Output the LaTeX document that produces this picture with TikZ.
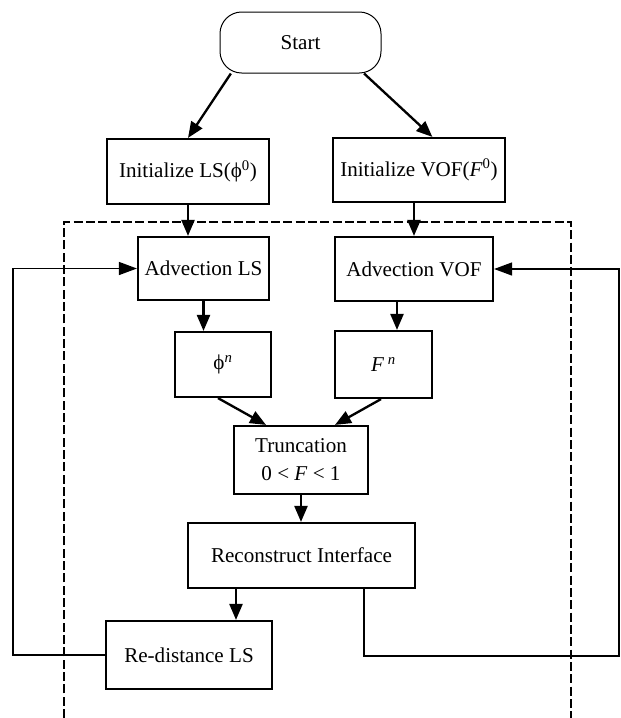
\documentclass[tikz,border=0pt]{standalone}
\usepackage{fontspec}
\setmainfont{Liberation Serif}
\usepackage{tikz}
\usetikzlibrary{arrows.meta, calc}

\begin{document}
\begin{tikzpicture}[
  x=0.3mm, y=-0.3mm,
  box/.style={draw, line width=0.65mm, inner sep=2pt, font=\fontsize{18}{24}\selectfont, align=center},
  arrow/.style={-{Triangle[length=4.8mm, width=3.9mm]}, line width=0.7mm},
  loopline/.style={-{Triangle[length=5.4mm, width=3.9mm]}, line width=0.4mm},
  frame/.style={line width=0.6mm, dash pattern=on 2.7mm off 1mm}
]
\useasboundingbox (0,0) rectangle (621,718);
% dashed frame, open at the bottom
\draw[frame] (64,718) -- (64,222) -- (571,222) -- (571,718);

\node[box, line width=0.3mm, rounded corners=6.5mm, minimum width=48.3mm, minimum height=18.3mm] (start) at (300.5,42.5) {Start};
\node[box, minimum width=48.6mm, minimum height=19.5mm] (initls) at (188,171.5) {Initialize LS(ϕ\textsuperscript{0})};
\node[box, minimum width=51.6mm, minimum height=19.2mm] (initvof) at (419,170) {Initialize VOF(\textit{F}\textsuperscript{0})};
\node[box, minimum width=39.3mm, minimum height=18.9mm] (advls) at (203.5,268.5) {Advection LS};
\node[box, minimum width=47.4mm, minimum height=19.2mm] (advvof) at (414,269) {Advection VOF};
\node[box, minimum width=28.8mm, minimum height=19.5mm] (phin) at (223,364.5) {ϕ\textsuperscript{\textit{n}}};
\node[box, minimum width=29.1mm, minimum height=20.1mm] (fn) at (383.5,364.5) {\textit{F}\,\textsuperscript{\textit{n}}};
\node[box, minimum width=40.2mm, minimum height=20.4mm] (trunc) at (301,460) {Truncation\\0 < \textit{F} < 1};
\node[box, minimum width=68.1mm, minimum height=19.5mm] (recon) at (301.5,555.5) {Reconstruct Interface};
\node[box, minimum width=49.8mm, minimum height=20.4mm] (redist) at (189,655) {Re-distance LS};

% helper points
\coordinate (vofout) at ($(advvof.south)+(-17,0)$);
\coordinate (lsout) at ($(recon.south)+(-65.5,0)$);
\coordinate (recout) at ($(recon.south)+(62.5,0)$);
\coordinate (lft) at (13,655);
\coordinate (rgt) at (619,656);

\draw[arrow] (start.204) -- (initls.north);
\draw[arrow] (start.334) -- (initvof.68);
\draw[arrow] (initls.south) -- (initls.south |- advls.north);
\draw[arrow] (advvof.north |- initvof.south) -- (advvof.north);
\draw[arrow] (advls.south) -- (advls.south |- phin.north);
\draw[arrow] (vofout) -- (vofout |- fn.north);
\draw[arrow] ($(phin.south)+(-5,0)$) -- ($(trunc.north)+(-35,0)$);
\draw[arrow] ($(fn.south)+(-2.5,0)$) -- ($(trunc.north)+(34,0)$);
\draw[arrow] (trunc.south) -- (trunc.south |- recon.north);
\draw[arrow] (lsout) -- (lsout |- redist.north);
% loops back to the advection steps
\draw[loopline] (redist.west) -- (lft) |- (advls.west);
\draw[loopline] (recout) |- (rgt) |- (advvof.east);
\end{tikzpicture}
\end{document}
